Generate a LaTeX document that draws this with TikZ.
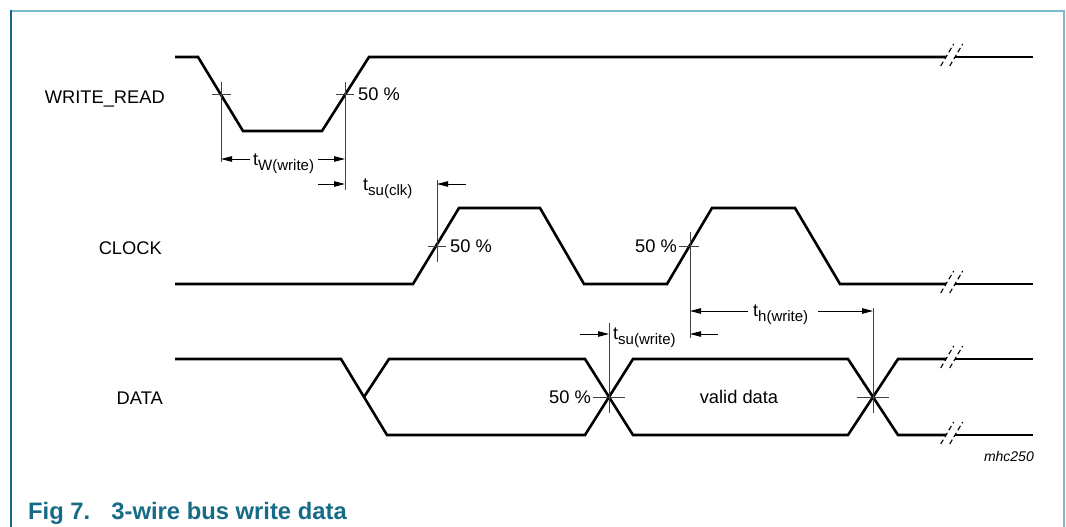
\documentclass[tikz,border=0pt]{standalone}
\usepackage{fontspec}
\setmainfont{Liberation Sans}
\usetikzlibrary{arrows.meta}
\definecolor{framedark}{RGB}{24,106,132}
\definecolor{framelight}{RGB}{125,186,201}
\definecolor{captioncol}{RGB}{22,108,134}
\newcommand{\tlab}[2]{t\raisebox{-5pt}{\fontsize{15}{16}\selectfont #2}}
\tikzset{
  sig/.style={line width=2.6pt, line join=miter, line cap=butt},
  marker/.style={line width=0.9pt, draw=black!75},
  dimarrow/.style={line width=0.9pt, -{Triangle[length=11pt,width=5.5pt]}},
  breakline/.style={line width=1.1pt, dash pattern=on 5pt off 3pt},
  lbl/.style={font=\fontsize{18.3}{21}\selectfont, inner sep=0pt},
  sublbl/.style={font=\fontsize{18}{21}\selectfont, inner sep=0pt, anchor=base west},
}
\newcommand{\brk}[1]{%
  \draw[breakline] (940.7,#1+9) -- (953.7,#1-13);
  \draw[breakline] (949.7,#1+9) -- (962.7,#1-13);}
\begin{document}
\begin{tikzpicture}[x=1pt,y=-1pt]
\useasboundingbox (0,0) rectangle (1066,527);
% frame
\draw[framelight, line width=2pt] (11,11) -- (1064,11) -- (1064,527);
\draw[framedark, line width=2pt] (11,10) -- (11,527);

% signal names
\node[lbl, anchor=east] (nwr) at (165,99) {WRITE\_READ};
\node[lbl, anchor=east] (nclk) at (162,248) {CLOCK};
\node[lbl, anchor=east] (ndata) at (163,398) {DATA};

% WRITE_READ
\draw[sig] (175,57) -- (198,57) -- (243,131) -- (322,131) -- (369,57) -- (946,57);
\draw[sig] (955,57) -- (1033,57);
\brk{57}
% CLOCK
\draw[sig] (175,284) -- (413,284) -- (459,208) -- (540,208) -- (584,284) -- (667,284) -- (712,208) -- (795,208) -- (840,284) -- (946,284);
\draw[sig] (955,284) -- (1033,284);
\brk{284}
% DATA
\draw[sig] (175,359) -- (341,359) -- (387,435) -- (585,435) -- (633,359) -- (848,359) -- (898,435) -- (946,435);
\draw[sig] (364,397) -- (389,359) -- (585,359) -- (633,435) -- (848,435) -- (898,359) -- (946,359);
\draw[sig] (955,359) -- (1033,359);
\draw[sig] (955,435) -- (1033,435);
\brk{359}
\brk{435}

% marker lines
\draw[marker] (221,82) -- (221,162);
\draw[marker] (345,82) -- (345,190);
\draw[marker] (437,180) -- (437,262);
\draw[marker] (690,232) -- (690,338);
\draw[marker] (609,323) -- (609,413);
\draw[marker] (873,308) -- (873,413);
\draw[marker] (212,94) -- (231,94);
\draw[marker] (336,94) -- (354,94);
\draw[marker] (428,246) -- (446,246);
\draw[marker] (679,246) -- (699,246);
\draw[marker] (593,397) -- (625,397);
\draw[marker] (857,397) -- (889,397);

% 50 % labels
\node[lbl, anchor=west] (p1) at (358,94) {50 \%};
\node[lbl, anchor=west] (p2) at (450,246) {50 \%};
\node[lbl, anchor=east] (p3) at (677,246) {50 \%};
\node[lbl, anchor=east] (p4) at (591,397) {50 \%};
\node[lbl] (valid) at (739,397) {valid data};

% timing labels
\node[sublbl] (tw) at (253,165) {\tlab{t}{W(write)}};
\node[sublbl] (tsuclk) at (363,190) {\tlab{t}{su(clk)}};
\node[sublbl] (tsuw) at (613,339) {\tlab{t}{su(write)}};
\node[sublbl] (thw) at (753,316) {\tlab{t}{h(write)}};

% dimension arrows
\draw[dimarrow] (250,159) -- (221,159);
\draw[dimarrow] (318,159) -- (345,159);
\draw[dimarrow] (318,184) -- (345,184);
\draw[dimarrow] (466,184) -- (437,184);
\draw[dimarrow] (580,334) -- (609,334);
\draw[dimarrow] (718,334) -- (690,334);
\draw[dimarrow] (748,311) -- (690,311);
\draw[dimarrow] (818,311) -- (873,311);

% id
\node[inner sep=0pt, anchor=base east, font=\fontsize{14}{16}\selectfont\itshape] (id) at (1034,461) {mhc250};

% caption
\node[inner sep=0pt, anchor=base west, text=captioncol, font=\fontsize{23.8}{26}\selectfont\bfseries] (cap) at (28,519) {Fig 7.\hspace{21pt}3-wire bus write data};
\end{tikzpicture}
\end{document}
